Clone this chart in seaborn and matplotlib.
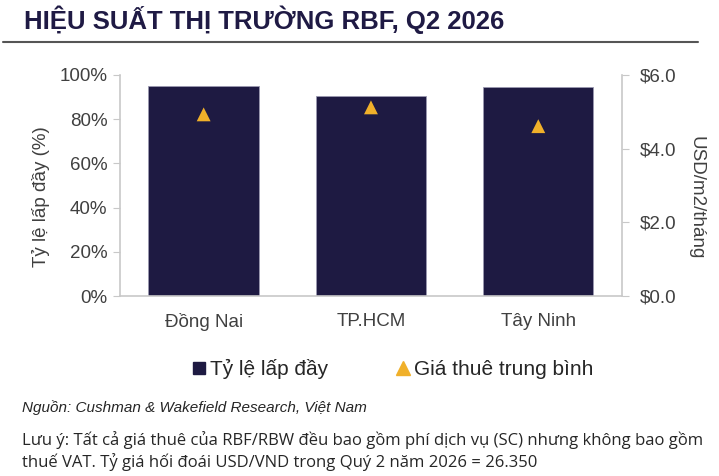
import matplotlib
matplotlib.use("Agg")
import matplotlib.pyplot as plt
from matplotlib.lines import Line2D
import seaborn as sns
import pandas as pd

# data
regions = ["Đồng Nai", "TP.HCM", "Tây Ninh"]
occupancy = [95.0, 90.5, 94.6]      # %
rent = [4.93, 5.12, 4.61]           # USD/m2/tháng

NAVY = "#1e1a42"
AMBER = "#f0b02a"
GREY_TXT = "#404040"
SPINE = "#c8c8c8"

sns.set_style("white")
plt.rcParams["font.family"] = ["Liberation Sans", "DejaVu Sans"]

df = pd.DataFrame({"region": regions, "occupancy": occupancy, "rent": rent})

fig = plt.figure(figsize=(7.19, 4.76), dpi=100)
ax = fig.add_axes([0.1669, 0.378, 0.6981, 0.4646])

sns.barplot(data=df, x="region", y="occupancy", color=NAVY, width=0.66,
            saturation=1, ax=ax, edgecolor="#9a98b0", linewidth=0.6)
ax.set_xlim(-0.5, 2.5)
ax.set_ylim(0, 100)
ax.set_yticks(range(0, 101, 20))
ax.set_yticklabels([f"{v}%" for v in range(0, 101, 20)])
ax.set_xlabel("")
ax.set_ylabel("Tỷ lệ lấp đầy (%)", fontsize=13.5, color=GREY_TXT)
ax.yaxis.set_label_coords(-0.14, 0.45)
ax.tick_params(axis="y", labelsize=13.5, labelcolor=GREY_TXT, length=5,
               color=SPINE, direction="out", pad=4, left=True)
ax.tick_params(axis="x", labelsize=13.5, labelcolor=GREY_TXT, length=0, pad=12)

ax2 = ax.twinx()
sns.scatterplot(data=df, x="region", y="rent", marker="^", s=100, color=AMBER,
                edgecolor="none", ax=ax2, zorder=5)
ax2.set_ylim(0, 6)
ax2.set_yticks([0, 2, 4, 6])
ax2.set_yticklabels([f"${v:.1f}" for v in [0, 2, 4, 6]])
ax2.set_ylabel("USD/m2/tháng", fontsize=13.5, color=GREY_TXT, rotation=-90)
ax2.yaxis.set_label_coords(1.165, 0.445)
ax2.tick_params(axis="y", labelsize=13.5, labelcolor=GREY_TXT, length=5,
                color=SPINE, direction="out", pad=8, right=True)
ax2.set_xlim(-0.5, 2.5)

for a in (ax, ax2):
    a.spines["top"].set_visible(False)
    for s in ("left", "right", "bottom"):
        a.spines[s].set_color(SPINE)
        a.spines[s].set_linewidth(1.2)
ax.spines["right"].set_visible(False)
ax2.spines["left"].set_visible(False)
ax2.spines["bottom"].set_visible(False)

handles = [
    Line2D([], [], marker="s", color=NAVY, linestyle="none", markersize=8,
           label="Tỷ lệ lấp đầy"),
    Line2D([], [], marker="^", color=AMBER, linestyle="none", markersize=10,
           label="Giá thuê trung bình"),
]
fig.legend(handles=handles, loc="center", bbox_to_anchor=(0.546, 0.225), ncol=2,
           frameon=False, fontsize=15, handlelength=0.7, handletextpad=0.2,
           columnspacing=3.2, labelcolor="#262626")

# title and rule
fig.text(0.034, 0.958, "HIỆU SUẤT THỊ TRƯỜNG RBF, Q2 2026",
         fontsize=18.5, fontweight="bold", color="#1f1a44", va="center", ha="left")
fig.add_artist(Line2D([0.004, 0.971], [0.912, 0.912], color="#555555", linewidth=1.5))

fig.text(0.03, 1 - 408 / 476, "Nguồn: Cushman & Wakefield Research, Việt Nam",
         fontsize=11, style="italic", color="#262626", va="center")
note_font = ["Open Sans", "DejaVu Sans"]
fig.text(0.03, 1 - 440 / 476,
         "Lưu ý: Tất cả giá thuê của RBF/RBW đều bao gồm phí dịch vụ (SC) nhưng không bao gồm",
         family=note_font, fontsize=12, color="#262626", va="center")
fig.text(0.03, 1 - 462 / 476,
         "thuế VAT. Tỷ giá hối đoái USD/VND trong Quý 2 năm 2026 = 26.350",
         family=note_font, fontsize=12, color="#262626", va="center")

fig.savefig("out.png", dpi=100)
